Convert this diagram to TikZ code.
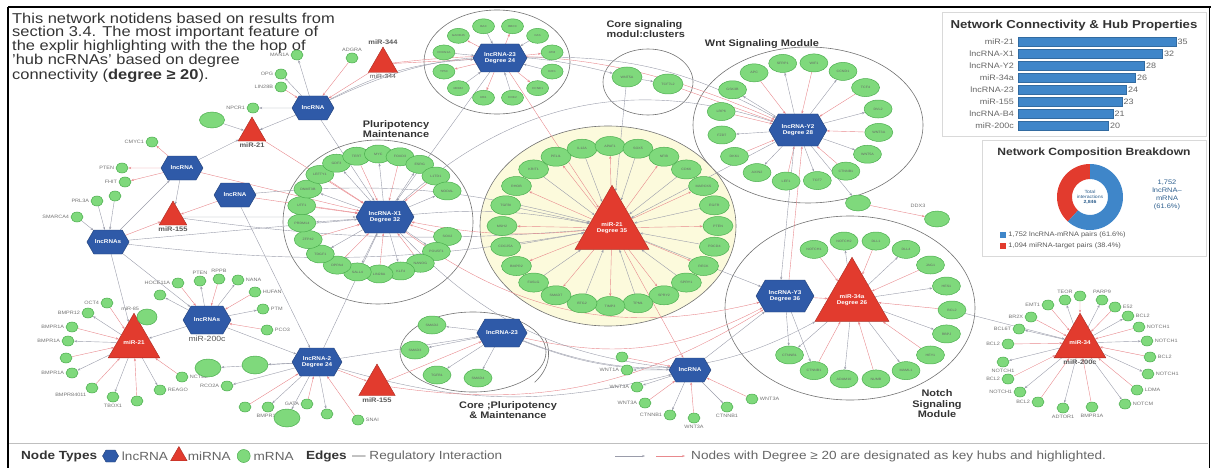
\documentclass[tikz,border=0pt]{standalone}
\usepackage{fontspec}
\setmainfont{Liberation Sans}[FakeStretch=1.15]
\usetikzlibrary{positioning, shapes.geometric, shapes.symbols, arrows.meta, backgrounds}
\definecolor{lncblue}{HTML}{2F5AA8}
\definecolor{mirred}{HTML}{E23B2E}
\definecolor{mgreen}{HTML}{7FD97C}
\definecolor{mgreenline}{HTML}{4DAE50}
\definecolor{barblue}{HTML}{3F86C9}
\definecolor{hubyellow}{HTML}{FCFADC}
\definecolor{edgegray}{HTML}{9A9CAA}
\definecolor{edgered}{HTML}{E8898D}

\begin{document}
\begin{tikzpicture}[x=1pt, y=-1pt,
    lnc/.style={shape=signal, signal to=east and west, signal pointer angle=120, fill=lncblue, draw=lncblue!70!black, text=white, align=center, inner xsep=1pt, inner ysep=2pt, minimum width=42pt, minimum height=24pt, font=\fontsize{5.5}{6}\selectfont\bfseries},
    hub/.style={lnc, minimum width=58pt, minimum height=32pt},
    mir/.style={regular polygon, regular polygon sides=3, fill=mirred, draw=mirred!75!black, text=white, align=center, inner sep=0pt, minimum size=34pt, font=\fontsize{5.5}{6}\selectfont\bfseries},
    mrna/.style={ellipse, fill=mgreen, draw=mgreenline, line width=0.5pt, minimum width=25pt, minimum height=16pt, inner sep=0pt, font=\fontsize{3.2}{3.5}\selectfont, text=black!60},
    dot/.style={mrna, minimum width=12pt, minimum height=10pt},
    gene/.style={font=\fontsize{4.8}{5}\selectfont, text=black!55, inner sep=0.5pt},
    mirlab/.style={font=\fontsize{6.5}{7}\selectfont\bfseries, text=black!65, inner sep=0.5pt},
    module/.style={draw=black!55, line width=0.6pt},
    modtitle/.style={font=\fontsize{9.5}{10.5}\selectfont\bfseries, align=center, text=black!80},
    rg/.style={-{Stealth[length=3pt,width=2.2pt]}, draw=edgegray, line width=0.4pt},
    rr/.style={-{Stealth[length=3pt,width=2.2pt]}, draw=edgered, line width=0.4pt},
    panel/.style={draw=black!15, line width=0.6pt},
    lgtext/.style={font=\fontsize{11.8}{12}\selectfont, text=black!60, inner sep=1pt},
    lgbold/.style={font=\fontsize{11.8}{12}\selectfont\bfseries, text=black!80, inner sep=1pt},
]
\useasboundingbox (0,0) rectangle (1212,468);

% Frame
\draw[line width=1.3pt] (8,7) -- (1211,7);
\draw[line width=1.3pt] (8,7) -- (8,468);
\draw[line width=0.8pt] (1209,7) -- (1209,468);

% Intro text
\node[anchor=north west, align=left, inner sep=0pt, font=\fontsize{14.3}{12.5}\selectfont, text=black!80] (intro) at (12,13) {This network notidens based on results from\\section 3.4. The most important feature of\\the explir highlighting with the the hop of\\'hub ncRNAs' based on degree\\connectivity (\textbf{degree ≥ 20}).};

% Module outlines
\begin{scope}[on background layer]
\draw[module] (497,62) ellipse [x radius=73, y radius=52];
\draw[module] (648,82) ellipse [x radius=45, y radius=33];
\draw[module] (808,125) ellipse [x radius=115, y radius=78];
\draw[module] (378,222) ellipse [x radius=95, y radius=82];
\draw[module, fill=hubyellow] (608,226) ellipse [x radius=128, y radius=100];
\draw[module] (850,308) ellipse [x radius=125, y radius=92];
\draw[module] (473,352) ellipse [x radius=73, y radius=40];
\draw[module] (545,338) arc[start angle=-20, end angle=40, x radius=60, y radius=45];
\end{scope}

% Module titles
\node[modtitle, anchor=west, align=left] (tcore) at (603,29) {Core signaling\\modul:clusters};
\node[modtitle] (twnt) at (762,44) {Wnt Signaling Module};
\node[modtitle] (tpluri) at (396,129) {Pluripotency\\Maintenance};
\node[modtitle] (tnotch) at (937,404) {Notch\\Signaling\\Module};
\node[modtitle] (tcp) at (508,410) {Core ;Pluripotency\\\& Maintenance};

% Hubs
\node[hub] (x1) at (385,217) {lncRNA-X1\\Degree 32};
\node[mir, minimum size=74pt] (m21) at (612,228) {miR-21\\Degree 35};
\node[hub] (y2) at (798,130) {lncRNA-Y2\\Degree 28};
\node[hub] (y3) at (785,296) {lncRNA-Y3\\Degree 36};
\node[mir, minimum size=72pt] (m34) at (852,300) {miR-34a\\Degree 26};
\node[hub, minimum width=54pt, minimum height=28pt] (t23) at (500,58) {lncRNA-23\\Degree 24};
\node[lnc, minimum width=50pt, minimum height=28pt] (c23) at (502,333) {lncRNA-23};
\node[hub, minimum width=50pt, minimum height=28pt] (l2) at (317,362) {lncRNA-2\\Degree 24};
\node[lnc] (lnB) at (690,370) {lncRNA};
\node[mir, minimum size=52pt] (mR) at (1080,343) {miR-34};
\node[mirlab, below=1pt of mR] (mRl) {miR-200c};

% Left side nodes
\node[lnc] (lnA) at (313,108) {lncRNA};
\node[lnc] (lnC) at (182,168) {lncRNA};
\node[lnc] (lnD) at (235,195) {lncRNA};
\node[lnc] (lnE) at (108,242) {lncRNAs};
\node[lnc, minimum width=48pt, minimum height=28pt] (lnF) at (207,320) {lncRNAs};
\node[mirlab, font=\fontsize{7.5}{8}\selectfont, below=1pt of lnF] (lnFl) {miR-200c};
\node[mir, minimum size=32pt] (tm21) at (252,133) {};
\node[mirlab, below=1pt of tm21] (tm21l) {miR-21};
\node[mir, minimum size=32pt] (tm155) at (173,217) {};
\node[mirlab, below=1pt of tm155] (tm155l) {miR-155};
\node[mir, minimum size=34pt] (tm344) at (383,64) {};
\node[mirlab, above=1pt of tm344] (tm344a) {miR-344};
\node[mirlab, font=\fontsize{6}{6.5}\selectfont, below=1pt of tm344] (tm344b) {miR-344};
\node[mir, minimum size=54pt] (tmL) at (134,343) {miR-21};
\node[mir, minimum size=42pt] (m155b) at (377,385) {};
\node[mirlab, below=1pt of m155b] (m155bl) {miR-155};

% Pluripotency ring
\foreach \g [count=\i, evaluate=\i as \a using 22+(\i-1)*16.6] in {SOX2,POU5F1,NANOG,KLF4,LIN28A,SALL4,DPPA4,TDGF1,ZFP42,PRDM14,UTF1,DNMT3B,LEFTY1,GDF3,TERT,MYC,FOXD3,ESRG,L1TD1,NODAL} {
  \path (377,214) ++(\a:76 and 60) node[mrna, minimum width=28pt, minimum height=18pt] (px\i) {\g};
  \begin{scope}[on background layer]
    \ifodd\i \draw[rr] (px\i) -- (x1); \else \draw[rg] (x1) -- (px\i); \fi
  \end{scope}
}

% miR-21 ring
\foreach \g [count=\i, evaluate=\i as \a using (\i-1)*15] in {PTEN,PDCD4,RECK,SPRY1,SPRY2,TPM1,TIMP3,BTG2,SMAD7,FASLG,BMPR2,CDC25A,MSH2,TGFBI,RHOB,KRIT1,PELI1,IL12A,APAF1,SOX5,NFIB,CDK6,MARCKS,EGFR} {
  \path (610,226) ++(\a:108 and 80) node[mrna, minimum width=30pt, minimum height=19pt] (mc\i) {\g};
  \begin{scope}[on background layer]
    \ifodd\i \draw[rr] (m21) -- (mc\i); \else \draw[rg] (mc\i) -- (m21); \fi
  \end{scope}
}

% Wnt ring
\foreach \g [count=\i, evaluate=\i as \a using 10+(\i-1)*22.5] in {WNT3A,WNT5A,CTNNB1,TCF7,LEF1,AXIN2,DKK1,FZD7,LRP6,GSK3B,APC,SFRP1,WIF1,CCND1,TCF4,DVL2} {
  \path (800,122) ++(\a:80 and 60) node[mrna, minimum width=28pt, minimum height=18pt] (wn\i) {\g};
  \begin{scope}[on background layer]
    \ifodd\i \draw[rr] (wn\i) -- (y2); \else \draw[rg] (y2) -- (wn\i); \fi
  \end{scope}
}

% Notch ring
\foreach \g [count=\i, evaluate=\i as \a using -120+(\i-1)*20] in {NOTCH1,NOTCH2,DLL1,DLL4,JAG1,HES1,BCL2,RBPJ,HEY1,MAML1,NUMB,ADAM10,CTNNB1,CTNNB1} {
  \path (860,310) ++(\a:92 and 70) node[mrna, minimum width=28pt, minimum height=18pt] (nn\i) {\g};
  \begin{scope}[on background layer]
    \ifodd\i \draw[rr] (nn\i) -- (m34); \else \draw[rg] (m34) -- (nn\i); \fi
  \end{scope}
}

% Top cluster ring
\foreach \g [count=\i, evaluate=\i as \a using 15+(\i-1)*30] in {E2F1,CCNE1,CDK2,RB1,MDM2,TP53,CDKN1A,GADD45,BAX,BBC3,FAS,ATM} {
  \path (498,62) ++(\a:56 and 37) node[mrna, minimum width=22pt, minimum height=15pt, font=\fontsize{2.8}{3}\selectfont] (tc\i) {\g};
  \begin{scope}[on background layer]
    \ifodd\i \draw[rg] (tc\i) -- (t23); \else \draw[rr] (t23) -- (tc\i); \fi
  \end{scope}
}

% Core signaling pair
\node[mrna, minimum width=30pt, minimum height=20pt] (cs1) at (627,77) {WNT5A};
\node[mrna, minimum width=30pt, minimum height=20pt] (cs2) at (668,84) {TCF7L2};

% Core pluripotency satellites
\foreach \x/\y/\g [count=\i] in {432/325/SMAD2, 415/350/SMAD3, 437/375/TGFB1, 478/378/SMAD4} {
  \node[mrna, minimum width=28pt, minimum height=18pt] (cp\i) at (\x,\y) {\g};
  \begin{scope}[on background layer]
    \draw[rg] (c23) -- (cp\i);
  \end{scope}
}

% Top-left satellites
\foreach \x/\y/\g/\s [count=\i] in {297/55/MAN1A/left, 352/58/ADGRA/above, 281/74/OPG/left, 281/87/LIN28B/left, 253/108/NPCR1/left} {
  \node[dot] (ta\i) at (\x,\y) {};
  \node[gene, \s=1pt of ta\i] (tal\i) {\g};
  \begin{scope}[on background layer]
    \ifodd\i \draw[rg] (lnA) -- (ta\i); \else \draw[rr] (ta\i) -- (lnA); \fi
  \end{scope}
}
\node[mrna] (tb) at (212,120) {};
\foreach \x/\y/\g/\s [count=\i] in {152/142/CMYC1/left, 122/168/PTEN/left, 125/182/FHIT/left} {
  \node[dot] (lc\i) at (\x,\y) {};
  \node[gene, \s=1pt of lc\i] (lcl\i) {\g};
  \begin{scope}[on background layer]
    \draw[rr] (lnC) -- (lc\i);
  \end{scope}
}
\foreach \x/\y/\g/\s [count=\i] in {115/196//left, 97/201/PRL3A/left, 77/217/SMARCA4/left} {
  \node[dot] (le\i) at (\x,\y) {};
  \node[gene, \s=1pt of le\i] (lel\i) {\g};
  \begin{scope}[on background layer]
    \draw[rg] (le\i) -- (lnE);
  \end{scope}
}

% Left miR-21 satellites
\foreach \x/\y/\g/\s [count=\i] in {107/303/OCT4/left, 88/313/BMPR12/left, 72/327/BMPR1A/left, 68/341/BMPR1A/left, 66/358//left, 72/373/BMPR1A/left, 92/388/BMPR84011/below left, 113/397/TBOX1/below, 137/401//below, 160/390/REAGO/right, 182/377/NCTB2/right} {
  \node[dot] (ml\i) at (\x,\y) {};
  \node[gene, \s=1pt of ml\i] (mll\i) {\g};
  \begin{scope}[on background layer]
    \ifodd\i \draw[rr] (ml\i) -- (tmL); \else \draw[rg] (tmL) -- (ml\i); \fi
  \end{scope}
}

% lncRNAs (miR-200c) satellites
\foreach \x/\y/\g/\s [count=\i] in {178/283/HOCE11A/left, 200/281/PTEN/above, 219/279/RPPB/above, 238/280/NANA/right, 255/292/HUFAN/right, 263/309/PTM/right, 267/330/PCO3/right, 160/295//left} {
  \node[dot] (lf\i) at (\x,\y) {};
  \node[gene, \s=1pt of lf\i] (lfl\i) {\g};
  \begin{scope}[on background layer]
    \ifodd\i \draw[rr] (lf\i) -- (lnF); \else \draw[rg] (lnF) -- (lf\i); \fi
  \end{scope}
}
\node[mrna, minimum width=20pt, minimum height=16pt] (lfb) at (147,317) {};
\node[gene, above left=0pt and 0pt of lfb] (lfbl) {miR-85};

% lncRNA-2 satellites
\foreach \x/\y/\g/\s [count=\i] in {227/386/RCO2A/left, 245/407//left, 268/407/BMPR1A/below, 307/404/GATA/left, 327/414//below, 358/420/SNAI/right} {
  \node[dot] (lt\i) at (\x,\y) {};
  \node[gene, \s=1pt of lt\i] (ltl\i) {\g};
  \begin{scope}[on background layer]
    \ifodd\i \draw[rg] (l2) -- (lt\i); \else \draw[rr] (lt\i) -- (l2); \fi
  \end{scope}
}
\foreach \x/\y [count=\i] in {208/368, 255/365, 287/418} {
  \node[mrna, minimum width=26pt, minimum height=18pt] (lu\i) at (\x,\y) {};
  \begin{scope}[on background layer]
    \draw[rg] (l2) -- (lu\i);
  \end{scope}
}

% Bottom lncRNA satellites
\foreach \x/\y/\g/\s [count=\i] in {627/370/WNT1A/left, 622/357//left, 637/387/WNT3A/left, 645/403/WNT3A/left, 670/415/CTNNB1/left, 694/418/WNT3A/below, 727/407/CTNNB1/below, 752/399/WNT3A/right} {
  \node[dot] (lb\i) at (\x,\y) {};
  \node[gene, \s=1pt of lb\i] (lbl\i) {\g};
  \begin{scope}[on background layer]
    \ifodd\i \draw[rg] (lnB) -- (lb\i); \else \draw[rr] (lb\i) -- (lnB); \fi
  \end{scope}
}

% Right miR cluster
\foreach \x/\y/\g/\s [count=\i] in {1048/305/EMT1/left, 1065/300/TEOR/above, 1080/296//above, 1102/300/PARP9/above, 1115/307/E52/right, 1128/316/BCL2/right, 1139/327/NOTCH1/right, 1147/341/NOTCH1/right, 1150/357/BCL2/right, 1148/374/NOTCH1/right, 1137/390/LDMA/right, 1125/404/NOTCM/right, 1092/407/BMPR1A/below, 1063/408/ADTOR1/below, 1038/402/BCL2/left, 1020/392/NOTCH1/left, 1008/379/BCL2/left, 1003/362/NOTCH1/below, 1008/344/BCL2/left, 1019/329/BCL6T/left, 1031/317/BR2X/left} {
  \node[dot] (rc\i) at (\x,\y) {};
  \node[gene, \s=1pt of rc\i] (rcl\i) {\g};
  \begin{scope}[on background layer]
    \ifodd\i \draw[rr] (rc\i) -- (mR); \else \draw[rg] (mR) -- (rc\i); \fi
  \end{scope}
}

% DDX3 pair
\node[mrna] (dd1) at (858,203) {};
\node[gene] (ddl) at (918,206) {DDX3};
\node[mrna] (dd2) at (937,219) {};

% Cross connections
\begin{scope}[on background layer]
\draw[rg] (lnA) -- (x1);
\draw[rr] (tm21) -- (x1);
\draw[rr] (tm344) -- (lnA);
\draw[rg] (lnA) -- (tm21);
\draw[rg] (tb) -- (tm21);
\draw[rg] (lnC) -- (tm21);
\draw[rr] (lnC) -- (x1);
\draw[rg] (lnC) -- (tm155);
\draw[rg] (lnE) -- (lnC);
\draw[rr] (lnE) -- (tm155);
\draw[rg] (tm155) -- (x1);
\draw[rg] (lnE) -- (x1);
\draw[rg] (lnE) -- (tmL);
\draw[rg] (lnE) -- (lnF);
\draw[rg] (lnD) -- (l2);
\draw[rr] (lnD) -- (tm155);
\draw[rr] (lnD) -- (x1);
\draw[rg] (lnD) to[bend left=10] (m21);
\draw[rg] (tm155) to[bend right=6] (m21);
\draw[rg] (lnF) -- (tmL);
\draw[rg] (lnF) -- (l2);
\draw[rg] (l2) -- (x1);
\draw[rr] (l2) -- (m155b);
\draw[rg] (l2) -- (c23);
\draw[rg] (l2) to[bend right=15] (lnB);
\draw[rr] (m155b) -- (c23);
\draw[rr] (m155b) to[bend right=20] (y3);
\draw[rg] (x1) to[bend left=8] (m21);
\draw[rr] (m21) to[bend left=8] (x1);
\draw[rg] (x1) to[bend left=30] (y2);
\draw[rr] (x1) to[bend right=25] (y3);
\draw[rg] (t23) -- (x1);
\draw[rr] (t23) -- (m21);
\draw[rr] (tm344) -- (t23);
\draw[rr] (tm344) to[bend left=15] (y2);
\draw[rg] (lnA) to[bend left=12] (t23);
\draw[rg] (lnA) to[bend left=20] (cs1);
\draw[rg] (t23) to[bend left=15] (y2);
\draw[rg] (cs1) -- (cs2);
\draw[rg] (cs1) -- (m21);
\draw[rr] (cs2) -- (y2);
\draw[rg] (y2) -- (m21);
\draw[rg] ([xshift=-4pt]y2.south) -- ([xshift=-4pt]y3.north);
\draw[rr] ([xshift=4pt]y3.north) -- ([xshift=4pt]y2.south);
\draw[rg] (m21) -- (y3);
\draw[rr] (y3) -- (m34);
\draw[rg] (y3) -- (nn13);
\draw[rg] (y3) -- (nn14);
\draw[rg] (c23) to[bend right=10] (lnB);
\draw[rg] (c23) to[bend right=25] (m34);
\draw[rr] (c23) to[bend right=20] (y3);
\draw[rg] (lnB) -- (y3);
\draw[rr] (m21) -- (lnB);
\draw[rg] (x1) to[bend right=20] (lnB);
\draw[rg] (lnE) to[bend right=8] (m21);
\draw[rg] (nn7) -- (mR);
\draw[rr] (dd1) -- (dd2);
\draw[rg] (y2) -- (dd1);
\end{scope}

% Bar chart panel
\draw[panel] (942,12) rectangle (1206,136);
\node[font=\fontsize{11.5}{12}\selectfont\bfseries, text=black!80] (bartitle) at (1074,26) {Network Connectivity \& Hub Properties};
\foreach \lab/\val [count=\i] in {miR-21/35, lncRNA-X1/32, lncRNA-Y2/28, miR-34a/26, lncRNA-23/24, miR-155/23, lncRNA-B4/21, miR-200c/20} {
  \node[font=\fontsize{7.8}{8}\selectfont, text=black!60, anchor=east, inner sep=0pt] (bl\i) at (1014,30+12*\i) {\lab};
  \node[fill=barblue, draw=barblue!80!black, line width=0.3pt, inner sep=0pt, minimum height=9pt, minimum width=\val*4.5pt, anchor=west] (bb\i) at (1018,30+12*\i) {};
  \node[font=\fontsize{7.8}{8}\selectfont, text=black!60, right=1.5pt of bb\i, inner sep=0pt] (bv\i) {\val};
}

% Composition panel
\draw[panel] (982,140) rectangle (1206,256);
\node[font=\fontsize{10.5}{11}\selectfont\bfseries, text=black!80] (comptitle) at (1094,153) {Network Composition Breakdown};
\begin{scope}[shift={(1090,197)}, yscale=-1]
\fill[mirred] (90:33) arc[start angle=90, end angle=228, radius=33] -- (228:18) arc[start angle=228, end angle=90, radius=18] -- cycle;
\fill[barblue] (228:33) arc[start angle=228, end angle=450, radius=33] -- (90:18) arc[start angle=450, end angle=228, radius=18] -- cycle;
\end{scope}
\node[align=center, font=\fontsize{4.5}{5}\selectfont, text=barblue!70!black] (dtot) at (1090,197) {Total\\interactions\\\textbf{2,846}};
\node[align=center, font=\fontsize{6.5}{8}\selectfont, text=barblue!70!black] (dpct) at (1167,195) {1,752\\lncRNA--\\mRNA\\(61.6\%)};
\node[fill=barblue, minimum size=6pt, inner sep=0pt] (sq1) at (1003,235) {};
\node[font=\fontsize{6.5}{7}\selectfont, text=black!65, right=2pt of sq1, inner sep=0pt] (sq1t) {1,752 lncRNA-mRNA pairs (61.6\%)};
\node[fill=mirred, minimum size=6pt, inner sep=0pt] (sq2) at (1003,246) {};
\node[font=\fontsize{6.5}{7}\selectfont, text=black!65, right=2pt of sq2, inner sep=0pt] (sq2t) {1,094 miRNA-target pairs (38.4\%)};

% Legend bar
\draw[black!25, line width=1pt] (9,443) -- (1208,443);
\node[lgbold, anchor=west] (lgtypes) at (20,456) {Node Types};
\node[lnc, minimum width=16pt, minimum height=12pt, inner sep=0pt, right=4pt of lgtypes] (lghex) {};
\node[lgtext, right=2pt of lghex] (lglnc) {lncRNA};
\node[mir, minimum size=19pt, right=4pt of lglnc] (lgtri) {};
\node[lgtext, right=2pt of lgtri] (lgmir) {miRNA};
\node[mrna, minimum width=13pt, minimum height=13pt, right=5pt of lgmir] (lgdot) {};
\node[lgtext, right=2pt of lgdot] (lgm) {mRNA};
\node[lgbold, right=10pt of lgm] (lgedges) {Edges};
\node[lgtext, right=3pt of lgedges] (lgreg) {— Regulatory Interaction};
\coordinate (ga) at (615,456);
\coordinate (gb) at (645,456);
\coordinate (gc) at (656,456);
\coordinate (gd) at (685,456);
\draw[rg, line width=0.6pt] (ga) -- (gb);
\draw[rr, line width=0.6pt] (gc) -- (gd);
\node[lgtext, anchor=west] (lghub) at (690,456) {Nodes with Degree ≥ 20 are designated as key hubs and highlighted.};
\end{tikzpicture}
\end{document}
